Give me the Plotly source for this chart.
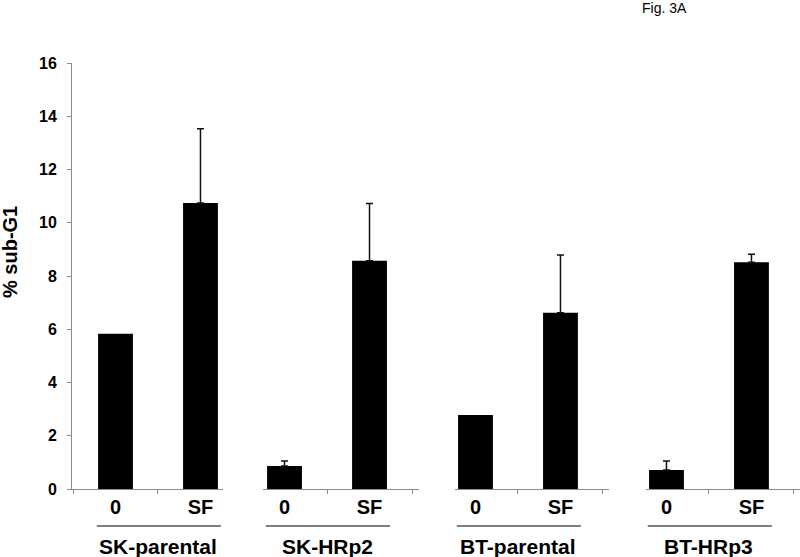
import plotly.graph_objects as go

# ---- data ----
groups = ["SK-parental", "SK-HRp2", "BT-parental", "BT-HRp3"]
treatments = ["0", "SF"]
sk_parental = [5.83, 10.74]
sk_hrp2 = [0.86, 8.57]
bt_parental = [2.78, 6.62]
bt_hrp3 = [0.71, 8.52]
sk_parental_err = [0, 2.79]
sk_hrp2_err = [0.19, 2.15]
bt_parental_err = [0, 2.17]
bt_hrp3_err = [0.34, 0.30]
y_ticks = [0, 2, 4, 6, 8, 10, 12, 14, 16]

values = [sk_parental, sk_hrp2, bt_parental, bt_hrp3]
errors = [sk_parental_err, sk_hrp2_err, bt_parental_err, bt_hrp3_err]

FONT = "Arial, Liberation Sans, sans-serif"
W, H = 800, 557
S_LEFT, S_RIGHT, S_TOP, S_BOTTOM = 72, 800, 63, 489
L, T, R, B = S_LEFT, S_TOP, W - S_RIGHT, H - S_BOTTOM

def sx(px):
    return (px - S_LEFT) / (S_RIGHT - S_LEFT)

def sy(py):
    return (S_BOTTOM - py) / (S_BOTTOM - S_TOP)

# panel geometry (pixel extents of each panel baseline, ranges in category units)
panel_px = [(72, 223), (263, 419), (455, 609), (646, 800)]
panel_rng = [(-0.512, 1.265), (-0.253, 1.582), (-0.241, 1.571), (-0.241, 1.571)]

fig = go.Figure()
for i, (g, v, e) in enumerate(zip(groups, values, errors)):
    xa = "x" if i == 0 else f"x{i+1}"
    fig.add_trace(go.Bar(
        x=treatments, y=v, xaxis=xa, yaxis="y",
        marker=dict(color="black", line=dict(width=0)),
        width=0.41, showlegend=False, hoverinfo="x+y",
    ))
    ex = [t for t, ee in zip(treatments, e) if ee > 0]
    ey = [vv for vv, ee in zip(v, e) if ee > 0]
    ee_ = [ee for ee in e if ee > 0]
    fig.add_trace(go.Scatter(
        x=ex, y=ey, xaxis=xa, yaxis="y", mode="markers",
        marker=dict(size=1, color="rgba(0,0,0,0)"),
        error_y=dict(type="data", symmetric=False, array=ee_,
                     arrayminus=[0] * len(ee_),
                     color="#111111", thickness=1.5, width=3.5),
        showlegend=False, hoverinfo="skip",
    ))

axis_common = dict(
    type="category", showline=True, linecolor="#8c8c8c", linewidth=1,
    ticks="outside", tickson="boundaries", ticklen=4, tickcolor="#8c8c8c",
    showgrid=False, zeroline=False, anchor="y",
    tickfont=dict(family=FONT, size=20, color="black", weight="bold"),
    fixedrange=True, automargin=False,
)
layout_axes = {}
for i in range(4):
    name = "xaxis" if i == 0 else f"xaxis{i+1}"
    d0, d1 = panel_px[i]
    ax = dict(axis_common)
    ax["domain"] = [sx(d0), sx(d1)]
    ax["range"] = list(panel_rng[i])
    layout_axes[name] = ax

fig.update_layout(**layout_axes)
fig.update_layout(
    width=W, height=H,
    margin=dict(l=L, r=R, t=T, b=B, pad=0, autoexpand=False),
    paper_bgcolor="white", plot_bgcolor="white",
    barmode="overlay",
    yaxis=dict(range=[0, 16], tickvals=y_ticks, showline=True, linecolor="#8c8c8c",
               linewidth=1, ticks="outside", ticklen=4, tickcolor="#8c8c8c",
               showgrid=False, zeroline=False, anchor="x", domain=[0, 1],
               ticklabelstandoff=7, automargin=False, fixedrange=True,
               tickfont=dict(family=FONT, size=16, color="black", weight="bold")),
)

# underline segments and group labels
for i, g in enumerate(groups):
    xr = "x" if i == 0 else f"x{i+1}"
    fig.add_shape(type="line", xref=xr, yref="paper",
                  x0=-0.22, x1=1.24, y0=sy(526), y1=sy(526),
                  line=dict(color="black", width=1))
    fig.add_annotation(text=g, xref=xr, yref="paper", x=0.5, y=sy(546),
                       xanchor="center", yanchor="middle", showarrow=False,
                       font=dict(family=FONT, size=21, color="black", weight="bold"))

# y-axis title
fig.add_annotation(text="% sub-G1", xref="paper", yref="paper",
                   x=sx(10), y=sy(252), textangle=-90,
                   xanchor="center", yanchor="middle", showarrow=False,
                   font=dict(family=FONT, size=20, color="black", weight="bold"))

# figure label
fig.add_annotation(text="Fig. 3A", xref="paper", yref="paper",
                   x=sx(640), y=sy(8),
                   xanchor="left", yanchor="middle", showarrow=False,
                   font=dict(family=FONT, size=14, color="black"))

fig.write_html("out.html", config={"displayModeBar": False},
               post_script="document.body.style.margin='0';")
